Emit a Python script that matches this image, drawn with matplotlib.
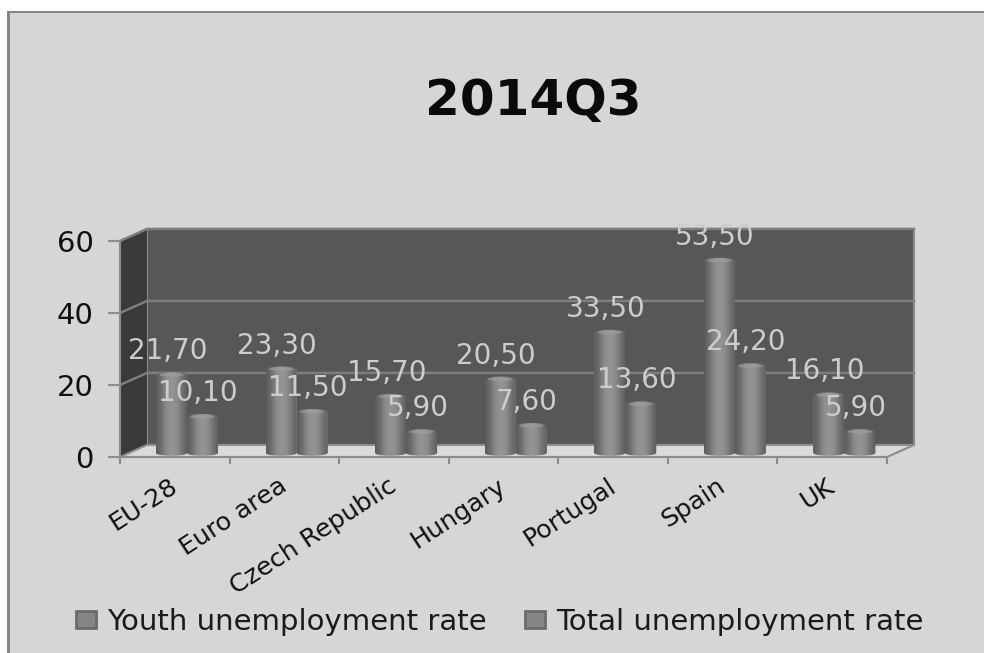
# Unemployment rates by country, drawn as a 3D-looking cylinder column chart
import numpy as np
import matplotlib
matplotlib.use("Agg")
import matplotlib.pyplot as plt
from matplotlib.colors import LinearSegmentedColormap
from matplotlib.patches import Ellipse, Patch, Polygon, Rectangle
from matplotlib.transforms import ScaledTranslation

plt.rcParams['font.family'] = ['DejaVu Sans']

countries = ['EU-28', 'Euro area', 'Czech Republic', 'Hungary', 'Portugal', 'Spain', 'UK']
youth_rate = [21.7, 23.3, 15.7, 20.5, 33.5, 53.5, 16.1]
total_rate = [10.1, 11.5, 5.9, 7.6, 13.6, 24.2, 5.9]
value_ticks = [0, 20, 40, 60]

W, H = 984, 653
BG = '#d6d6d6'
BORDER = '#858585'

# Depth of the fake 3D box and of the columns inside it, in data units
BOX_DX, BOX_DY = 0.246, 3.35
BAR_DX, BAR_DY = 0.111, 1.1
BAR_W = 0.283
CAP_H = 1.5

shade = LinearSegmentedColormap.from_list(
    'cyl', ['#5a5a5a', '#707070', '#8c8c8c', '#959595', '#8c8c8c', '#727272', '#5c5c5c'])
gradient = np.linspace(0, 1, 64).reshape(1, -1)


def draw_cylinder(ax, rect, z):
    """ Shades a bar as a cylinder with a rounded base and a lighter cap """
    x0, w = rect.get_x(), rect.get_width()
    y0, top = rect.get_y(), rect.get_y() + rect.get_height()
    cx = x0 + w / 2
    t = np.linspace(np.pi, 2 * np.pi, 24)
    bottom = np.column_stack([cx + w / 2 * np.cos(t), y0 + CAP_H / 2 * np.sin(t)])
    upper = np.column_stack([cx - w / 2 * np.cos(t), top - CAP_H / 2 * np.sin(t)])
    body = Polygon(np.vstack([bottom, upper]), closed=True, transform=ax.transData,
                   facecolor='none', edgecolor='none')
    ax.add_patch(body)
    img = ax.imshow(gradient, cmap=shade, extent=(x0, x0 + w, y0 - CAP_H, top + CAP_H),
                    aspect='auto', zorder=z, interpolation='bilinear')
    img.set_clip_path(body)
    ax.add_patch(Ellipse((cx, top), w * 0.8, CAP_H * 0.7, facecolor='#a0a0a0',
                         edgecolor='none', alpha=0.6, zorder=z + 0.1, clip_on=False))


fig = plt.figure(figsize=(W / 100, H / 100), dpi=100, facecolor='white')

# Chart panel with its grey border on the top and left
fig.patches.append(Rectangle((8 / W, 0), 1, 1 - 12 / H, transform=fig.transFigure,
                             facecolor=BG, edgecolor='none', zorder=-2))
fig.patches.append(Rectangle((7 / W, 0), 3 / W, 1 - 11 / H, transform=fig.transFigure,
                             facecolor=BORDER, edgecolor='none', zorder=-1))
fig.patches.append(Rectangle((7 / W, 1 - 13 / H), 1, 2 / H, transform=fig.transFigure,
                             facecolor=BORDER, edgecolor='none', zorder=-1))

ax = fig.add_axes([120 / W, 1 - 457 / H, 767 / W, 216 / H])
ax.patch.set_visible(False)
n = len(countries)
top = value_ticks[-1]

# Back wall, side wall and floor of the box
ax.add_patch(Polygon([(BOX_DX, BOX_DY), (n + BOX_DX, BOX_DY), (n + BOX_DX, top + BOX_DY),
                      (BOX_DX, top + BOX_DY)], facecolor='#575757', edgecolor='#8c8c8c',
                     linewidth=1.5, clip_on=False, zorder=1))
ax.add_patch(Polygon([(0, 0), (BOX_DX, BOX_DY), (BOX_DX, top + BOX_DY), (0, top)],
                     facecolor='#3a3a3a', edgecolor='none', clip_on=False, zorder=1))
ax.add_patch(Polygon([(0, 0), (n, 0), (n + BOX_DX, BOX_DY), (BOX_DX, BOX_DY)],
                     facecolor='#dadada', edgecolor='#8c8c8c', linewidth=1.5,
                     clip_on=False, zorder=1))

# Gridlines run along the back wall and fold down the side wall
for v in value_ticks[1:]:
    ax.plot([0, BOX_DX, n + BOX_DX], [v, v + BOX_DY, v + BOX_DY], color='#7e7e7e',
            linewidth=1.8, clip_on=False, zorder=2)

x = np.arange(n)
youth_bars = ax.bar(x + BAR_DX + 0.5 - BAR_W, youth_rate, BAR_W, bottom=BAR_DY, align='edge',
                    color='#808080', zorder=3, label='Youth unemployment rate')
total_bars = ax.bar(x + BAR_DX + 0.5, total_rate, BAR_W, bottom=BAR_DY, align='edge',
                    color='#808080', zorder=3, label='Total unemployment rate')
for rect in youth_bars:
    draw_cylinder(ax, rect, 4)
for rect in total_bars:
    draw_cylinder(ax, rect, 5)

# Value labels use a decimal comma
for bars, values in ((youth_bars, youth_rate), (total_bars, total_rate)):
    for rect, v in zip(bars, values):
        ax.annotate(f'{v:.2f}'.replace('.', ','),
                    (rect.get_x() + rect.get_width() / 2, v + BAR_DY),
                    xytext=(-3, 17), textcoords='offset points', ha='center', va='center',
                    fontsize=20, color='#cdcdcd', zorder=8, annotation_clip=False)

ax.set_xlim(0, n)
ax.set_ylim(0, top)
for side in ('top', 'right'):
    ax.spines[side].set_visible(False)
for side in ('left', 'bottom'):
    ax.spines[side].set_color('#8c8c8c')
    ax.spines[side].set_linewidth(1.5)
    ax.spines[side].set_zorder(6)

ax.set_yticks(value_ticks)
ax.tick_params(axis='y', length=9, width=1.5, color='#8c8c8c', labelsize=21,
               labelcolor='#111111', pad=10)
ax.set_xticks(np.arange(n + 1))
ax.set_xticklabels([])
ax.set_xticks(x + 0.5, minor=True)
ax.set_xticklabels(countries, minor=True, rotation=33, ha='right', rotation_mode='anchor',
                   fontsize=18.3, color='#111111')
ax.tick_params(axis='x', which='major', length=5, width=1.5, color='#8c8c8c')
ax.tick_params(axis='x', which='minor', length=0, pad=12)

# Slanted category labels sit a little left of their tick position
nudge = ScaledTranslation(-6 / 100, 0, fig.dpi_scale_trans)
for label in ax.get_xticklabels(minor=True):
    label.set_transform(label.get_transform() + nudge)

fig.text(533 / W, 1 - 101 / H, '2014Q3', ha='center', va='center', fontsize=36,
         fontweight='bold', color='#0a0a0a')

handles = [Patch(facecolor='#858585', edgecolor='#6c6c6c', linewidth=2, label=b.get_label())
           for b in (youth_bars, total_bars)]
fig.legend(handles=handles, loc='center left', bbox_to_anchor=(76 / W, 1 - 622 / H), ncol=2,
           frameon=False, fontsize=21, borderpad=0, borderaxespad=0, handlelength=0.7,
           handleheight=0.55, handletextpad=0.35, columnspacing=1.33, labelcolor='#1a1a1a')

fig.savefig('out.png', dpi=100)
